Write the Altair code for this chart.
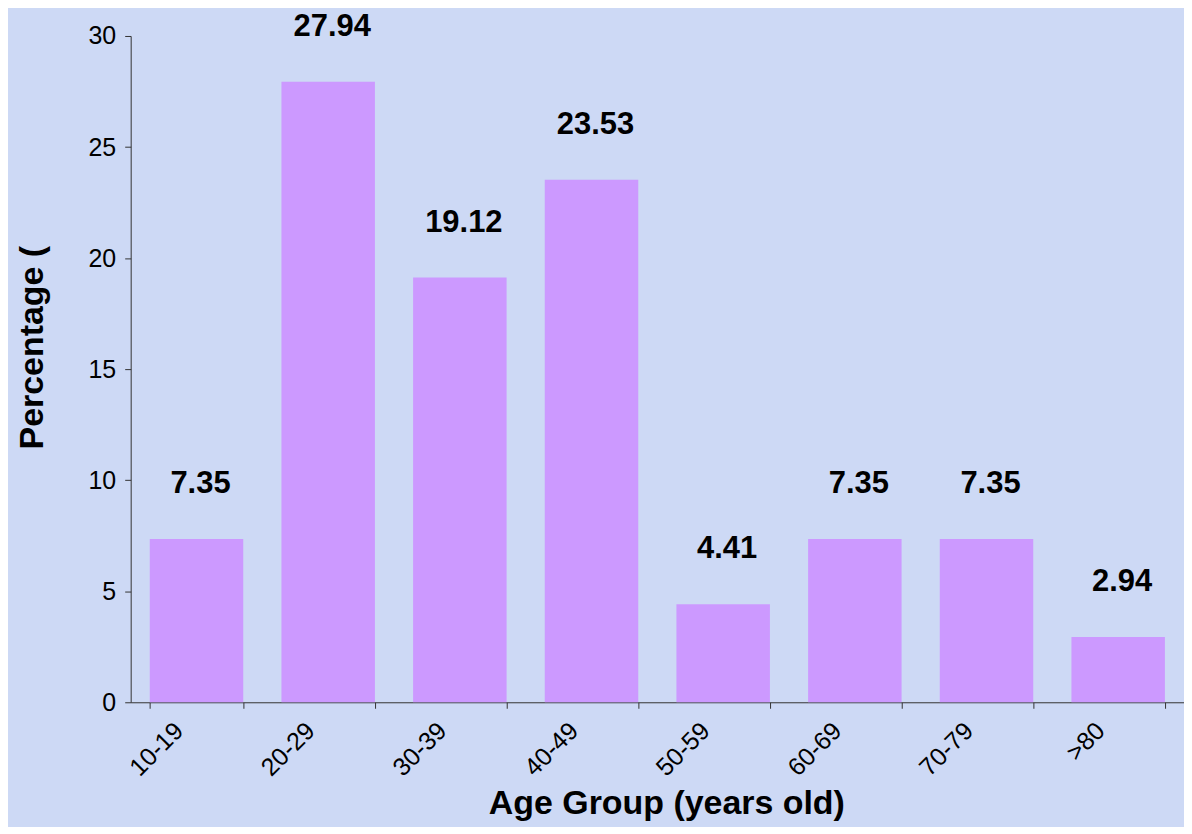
import altair as alt
import pandas as pd

categories = ["10-19", "20-29", "30-39", "40-49", "50-59", "60-69", "70-79", ">80"]
percentages = [7.35, 27.94, 19.12, 23.53, 4.41, 7.35, 7.35, 2.94]
y_ticks = [0, 5, 10, 15, 20, 25, 30]

df = pd.DataFrame({"group": categories, "pct": percentages})

FONT = "Liberation Sans"

x_enc = alt.X(
    "group:N",
    sort=categories,
    scale=alt.Scale(paddingInner=0.29, paddingOuter=0.145),
    axis=alt.Axis(
        title="Age Group (years old)",
        titleFont=FONT,
        titleFontSize=34,
        titleFontWeight="bold",
        titleColor="black",
        titleX=537,
        titleY=112,
        titleBaseline="alphabetic",
        titleAlign="center",
        labelAngle=-45,
        labelAlign="right",
        labelBaseline="middle",
        labelOffset=-18,
        labelPadding=18,
        labelFont=FONT,
        labelFontSize=25,
        labelColor="black",
        tickBand="extent",
        tickSize=6,
        tickColor="#333333",
        domainColor="#333333",
        grid=False,
    ),
)

y_enc = alt.Y(
    "pct:Q",
    scale=alt.Scale(domain=[0, 30], nice=False),
    axis=alt.Axis(
        title="Percentage (",
        titleFont=FONT,
        titleFontSize=34,
        titleFontWeight="bold",
        titleColor="black",
        titleAngle=-90,
        titleX=-88,
        titleY=312,
        titleAlign="center",
        titleBaseline="alphabetic",
        values=y_ticks,
        labelFont=FONT,
        labelFontSize=25,
        labelColor="black",
        labelPadding=9,
        tickSize=6,
        tickColor="#333333",
        domainColor="#333333",
        grid=False,
    ),
)

bars = alt.Chart(df).mark_bar(color="#CC99FF").encode(x=x_enc, y=y_enc)

labels = alt.Chart(df).mark_text(
    font=FONT,
    fontSize=31,
    fontWeight="bold",
    color="black",
    baseline="alphabetic",
    align="center",
    dx=4,
    dy=-46,
).encode(
    x=alt.X("group:N", sort=categories),
    y=alt.Y("pct:Q"),
    text=alt.Text("pct:Q", format=".2f"),
)

chart = (
    alt.layer(bars, labels)
    .properties(
        width=1056,
        height=668,
        autosize=alt.AutoSizeParams(type="none"),
        padding={"left": 123, "top": 27, "right": 0, "bottom": 124},
        background="#CDD9F5",
    )
    .configure_view(stroke=None)
)

chart.save("out.html", embed_options={"renderer": "svg", "actions": False})
